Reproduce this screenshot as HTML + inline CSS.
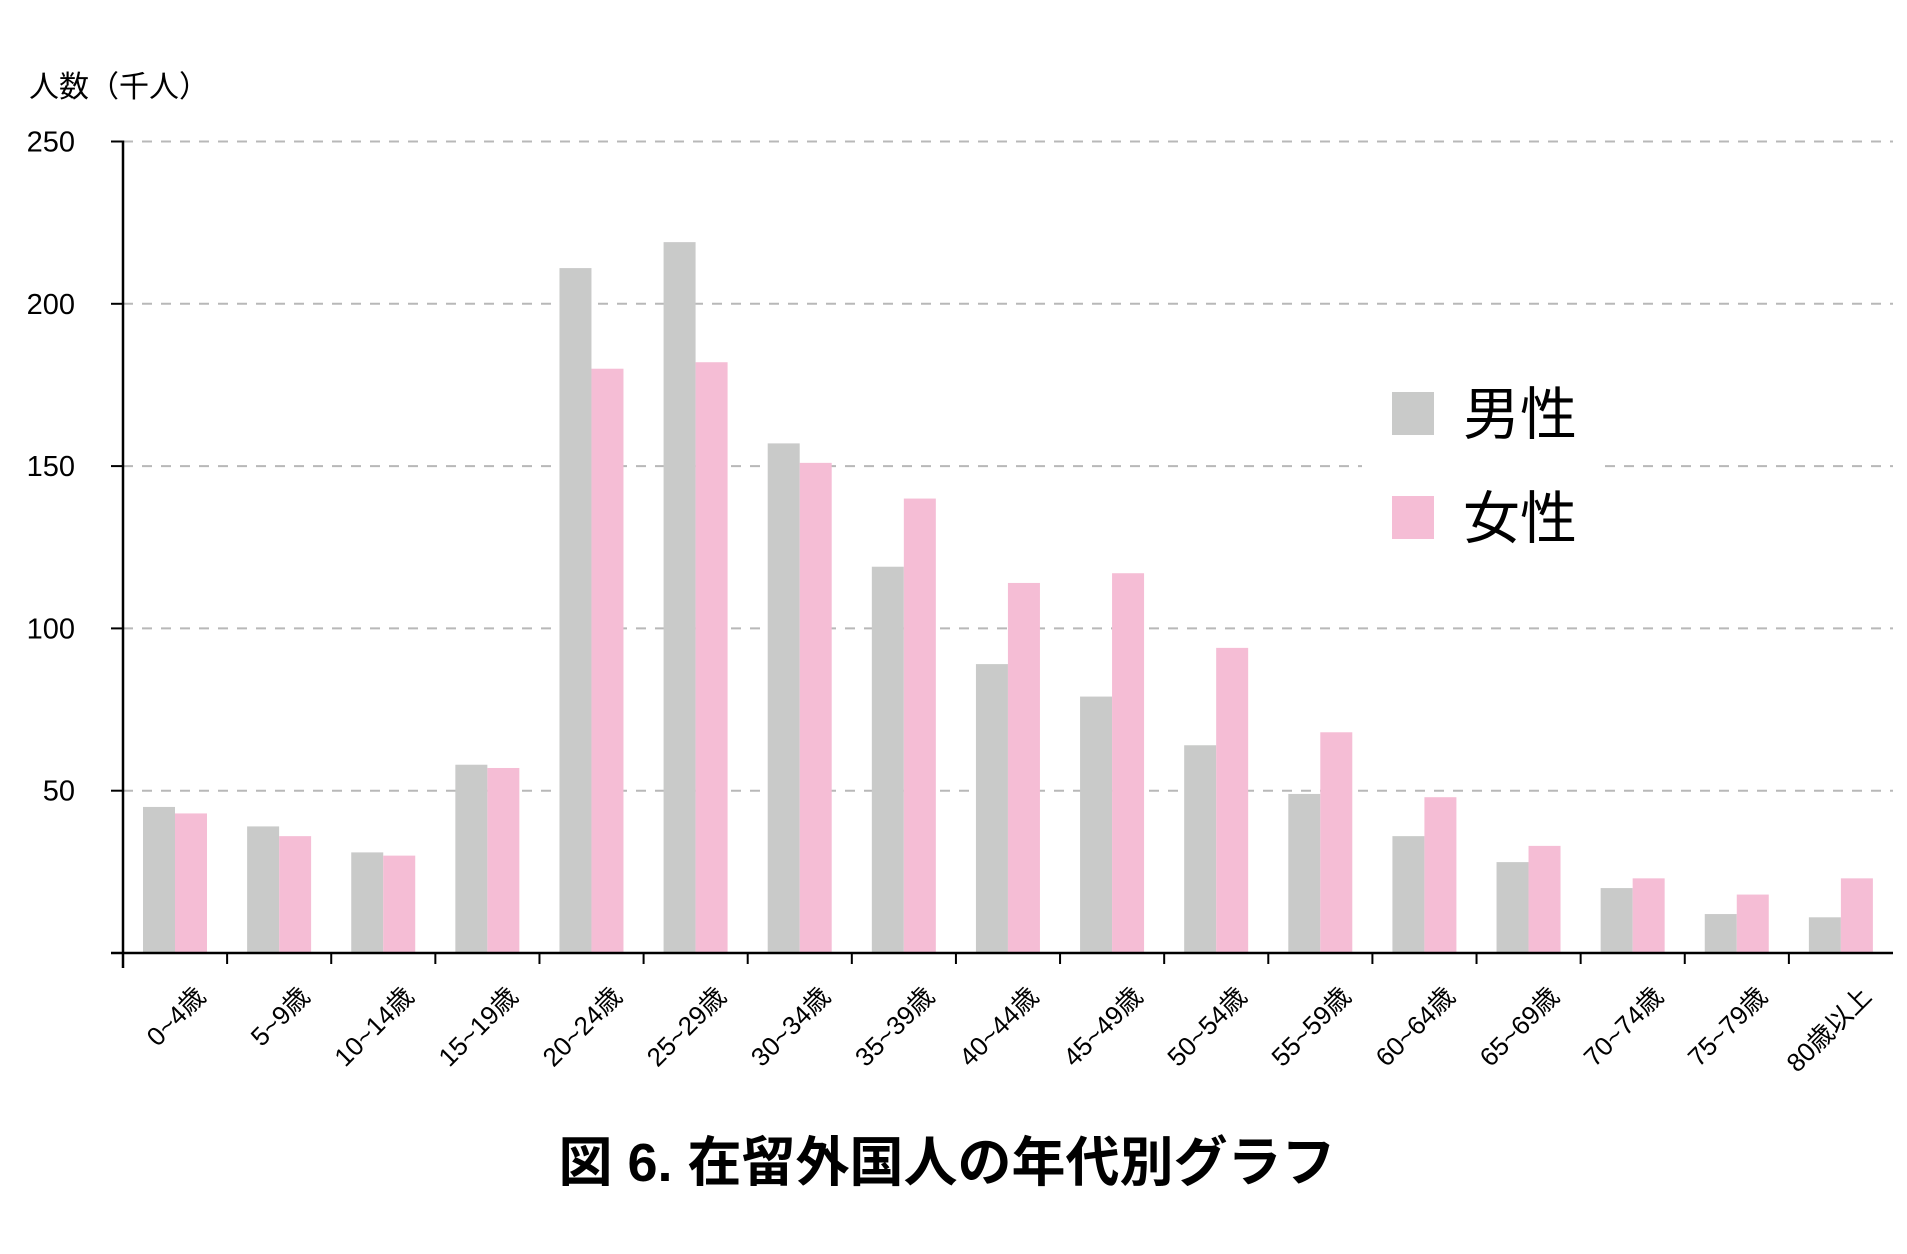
<!DOCTYPE html>
<html><head><meta charset="utf-8"><style>
html,body{margin:0;padding:0;background:#fff;}
svg{display:block;font-family:"Liberation Sans","Noto Sans CJK JP",sans-serif;}
</style></head><body>
<svg id="chart" width="1907" height="1254" viewBox="0 0 1907 1254">
<g id="grid"></g>
<g id="bars"></g>
<rect x="1362" y="380" width="243" height="170" fill="#fff"/>
<g id="axes"></g>
<g id="xlabels"></g>
<text x="29" y="97" font-size="30" fill="#000">人数（千人）</text>
<g>
<rect x="1392" y="392" width="42" height="43" fill="#c9cac9"/>
<text x="1463" y="434" font-size="57" fill="#000">男性</text>
<rect x="1392" y="496" width="42" height="43" fill="#f5bdd5"/>
<text x="1463" y="538" font-size="57" fill="#000">女性</text>
</g>
<text x="947" y="1181" font-size="54" font-weight="bold" text-anchor="middle" fill="#000">図 6.  在留外国人の年代別グラフ</text>
</svg>
<script>
const categories = ["0~4歳","5~9歳","10~14歳","15~19歳","20~24歳","25~29歳","30~34歳","35~39歳","40~44歳","45~49歳","50~54歳","55~59歳","60~64歳","65~69歳","70~74歳","75~79歳","80歳以上"];
const maleValues = [45,39,31,58,211,219,157,119,89,79,64,49,36,28,20,12,11];
const femaleValues = [43,36,30,57,180,182,151,140,114,117,94,68,48,33,23,18,23];
const yTicks = [50,100,150,200,250];

const NS = "http://www.w3.org/2000/svg";
const X0 = 123, X1 = 1893, Y0 = 953, YMAX = 250, PX_PER = 162.3/50;
const bandW = (X1 - X0) / categories.length;
function yScale(v){ return Y0 - v * PX_PER; }
function xBand(i){ return X0 + i * bandW; }
function mk(tag, attrs, parent){ const e = document.createElementNS(NS, tag); for (const k in attrs) e.setAttribute(k, attrs[k]); parent.appendChild(e); return e; }

const grid = document.getElementById('grid');
const axes = document.getElementById('axes');
const bars = document.getElementById('bars');
const xl = document.getElementById('xlabels');

yTicks.forEach(t => {
  const y = yScale(t);
  const g = mk('line', {x1: X0, x2: X1, y1: y, y2: y, stroke: '#b8b8b8', 'stroke-width': 2, 'stroke-dasharray': '10 9'}, grid);
  
  
  const tk = mk('line', {x1: X0 - 12, x2: X0, y1: y, y2: y, stroke: '#000', 'stroke-width': 2}, axes);
  
  
  const tx = mk('text', {x: 75, y: y + 10, 'font-size': 29, 'text-anchor': 'end', fill: '#000'}, axes);
  tx.textContent = t;
  
  
});

const ya = mk('line', {x1: X0, x2: X0, y1: yScale(YMAX) - 1, y2: Y0 + 15, stroke: '#000', 'stroke-width': 2.5}, axes);


const xa = mk('line', {x1: X0 - 12, x2: X1, y1: Y0, y2: Y0, stroke: '#000', 'stroke-width': 2.5}, axes);



categories.forEach((c, i) => {
  const bx = xBand(i);
  const bw = 32, off = 20;
  const m = mk('rect', {x: bx + off, y: yScale(maleValues[i]), width: bw, height: Y0 - yScale(maleValues[i]), fill: '#c9cac9'}, bars);
  
  
  const f = mk('rect', {x: bx + off + bw, y: yScale(femaleValues[i]), width: bw, height: Y0 - yScale(femaleValues[i]), fill: '#f5bdd5'}, bars);
  
  
  if (i > 0) {
    const tk = mk('line', {x1: bx, x2: bx, y1: Y0, y2: Y0 + 11, stroke: '#000', 'stroke-width': 2}, axes);
    
    
  }
  const cx = bx + bandW / 2 + 32, cy = 998;
  const t = mk('text', {x: cx, y: cy, 'font-size': 26, 'text-anchor': 'end', fill: '#000', transform: `rotate(-45 ${cx} ${cy})`}, xl);
  t.textContent = c;
  
  
});
</script>
</body></html>
